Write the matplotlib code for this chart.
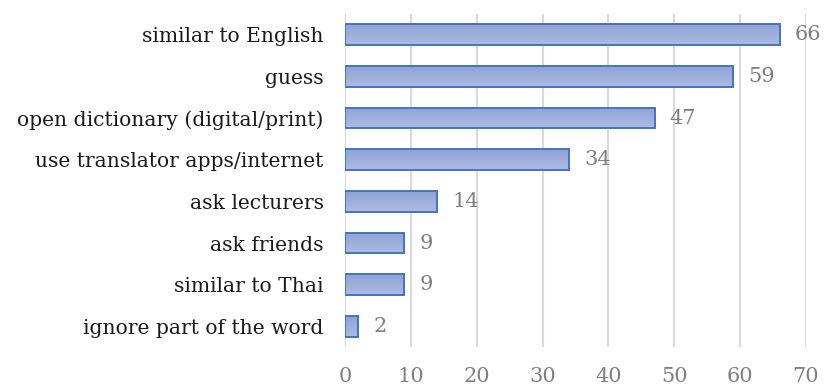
import matplotlib
matplotlib.use("Agg")
import matplotlib.pyplot as plt
import numpy as np
from matplotlib.colors import LinearSegmentedColormap

categories = [
    "similar to English",
    "guess",
    "open dictionary (digital/print)",
    "use translator apps/internet",
    "ask lecturers",
    "ask friends",
    "similar to Thai",
    "ignore part of the word",
]
values = [66, 59, 47, 34, 14, 9, 9, 2]
xticks = [0, 10, 20, 30, 40, 50, 60, 70]

plt.rcParams["font.family"] = ["DejaVu Serif"]

fig = plt.figure(figsize=(8.24, 3.87), dpi=100)
ax = fig.add_axes([0.419, 0.103, 0.559, 0.861])

y = np.arange(len(categories))
bars = ax.barh(y, values, height=0.5, color="none", edgecolor="#4472c4",
               linewidth=1.4, zorder=3)

# vertical gradient fill inside each bar
cmap = LinearSegmentedColormap.from_list("g", ["#aebbe2", "#8ea3d6"])
grad = np.linspace(0, 1, 64).reshape(-1, 1)
for b in bars:
    x0, y0 = b.get_x(), b.get_y()
    w, h = b.get_width(), b.get_height()
    im = ax.imshow(grad, cmap=cmap, aspect="auto",
                   extent=(x0, x0 + w, y0, y0 + h), origin="upper", zorder=2)
    im.set_clip_path(b)

for yi, v in zip(y, values):
    ax.text(v + 2.3, yi, str(v), va="center", ha="left", fontsize=15,
            color="#7f7f7f")

ax.set_xlim(0, 70)
ax.set_ylim(len(categories) - 0.5, -0.5)
ax.set_xticks(xticks)
ax.set_xticklabels([str(t) for t in xticks], fontsize=15, color="#7f7f7f")
ax.set_yticks(y)
ax.set_yticklabels(categories, fontsize=14.6, color="#1a1a1a")
ax.tick_params(axis="y", length=0, pad=15.5)
ax.tick_params(axis="x", length=0, pad=14)
ax.xaxis.grid(True, color="#d9d9d9", linewidth=1.5, zorder=0)
ax.set_axisbelow(True)
for s in ax.spines.values():
    s.set_visible(False)
ax.axvline(0, color="#d9d9d9", linewidth=1.5, zorder=1)

fig.savefig("out.png", dpi=100)
